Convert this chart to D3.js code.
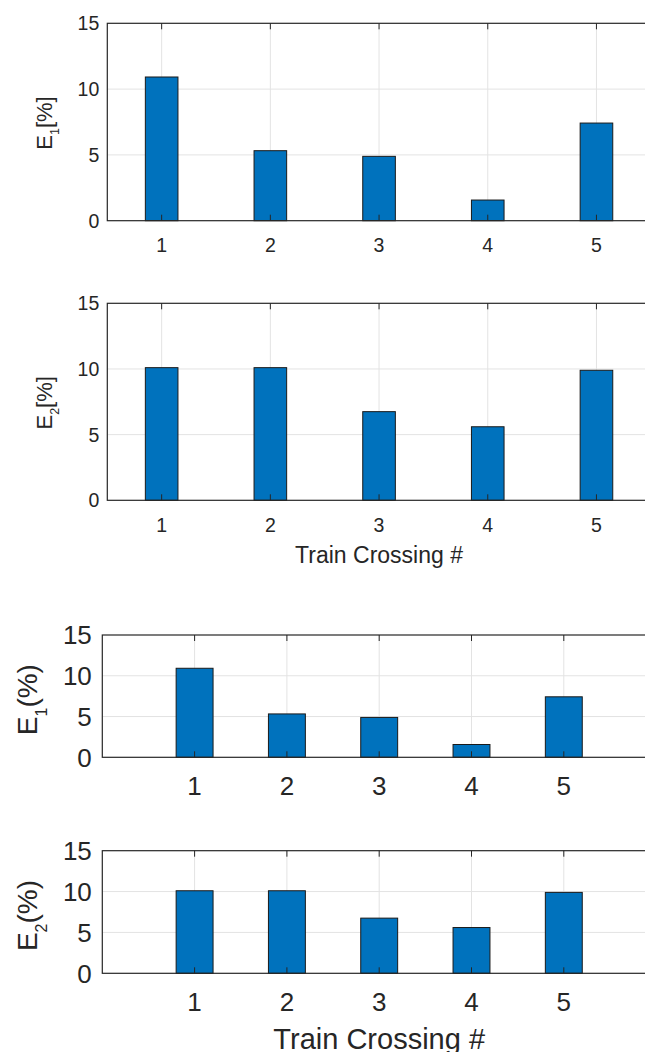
<!DOCTYPE html>
<html>
<head>
<meta charset="utf-8">
<script src="https://cdn.jsdelivr.net/npm/d3@7"></script>
<style>
  html, body { margin: 0; padding: 0; background: #fff; }
  svg { display: block; }
  text { font-family: "Liberation Sans", Arial, Helvetica, sans-serif; fill: #262626; }
</style>
</head>
<body>
<script>
// ---- data ----
const categories = [1, 2, 3, 4, 5];
const e1Values = [10.92, 5.32, 4.89, 1.57, 7.42];
const e2Values = [10.1, 10.1, 6.75, 5.6, 9.9];
const yTicks = [0, 5, 10, 15];
const xTickLabels = ["1", "2", "3", "4", "5"];
const xLabel = "Train Crossing #";

// ---- layout (styles/positions) ----
const W = 645, H = 1052;
const panels = [
  { values: e1Values, sub: "1", after: "[%]", left: 107.3, top: 23.3, bottom: 220.7, xDom: [0.5, 5.5], pxPerUnit: 108.7,
    barW: 0.3, tickFs: 19.5, labFs: 22, subFs: 12.5, subDy: 7, ylabX: 52.3, ylabDy: 1, xTickBase: 31.5, tickGap: 8, xlab: null },
  { values: e2Values, sub: "2", after: "[%]", left: 107.3, top: 303.3, bottom: 500.3, xDom: [0.5, 5.5], pxPerUnit: 108.7,
    barW: 0.3, tickFs: 19.5, labFs: 22, subFs: 12.5, subDy: 7, ylabX: 52.3, ylabDy: 1, xTickBase: 31.5, tickGap: 8, xlab: { y: 563.3, fs: 23 } },
  { values: e1Values, sub: "1", after: "(%)", left: 102.3, top: 635, bottom: 757.3, xDom: [0, 6], pxPerUnit: 92.3,
    barW: 0.4, tickFs: 26, labFs: 28, subFs: 16, subDy: 9.5, ylabX: 37.3, ylabDy: 3.5, xTickBase: 37.7, tickGap: 10.5, xlab: null },
  { values: e2Values, sub: "2", after: "(%)", left: 102.3, top: 850.7, bottom: 973.3, xDom: [0, 6], pxPerUnit: 92.3,
    barW: 0.4, tickFs: 26, labFs: 28, subFs: 16, subDy: 9.5, ylabX: 37.3, ylabDy: 3.5, xTickBase: 37.7, tickGap: 10.5, xlab: { y: 1049, fs: 29 } }
];

const svg = d3.select("body").append("svg").attr("width", W).attr("height", H);
const axisColor = "#262626";
const gridColor = "#e3e3e3";

panels.forEach(p => {
  const right = p.left + (p.xDom[1] - p.xDom[0]) * p.pxPerUnit;
  const x = d3.scaleLinear().domain(p.xDom).range([p.left, right]);
  const y = d3.scaleLinear().domain([0, 15]).range([p.bottom, p.top]);
  const g = svg.append("g");

  // grid
  g.selectAll(".vg").data(categories).enter().append("line")
    .attr("x1", d => x(d)).attr("x2", d => x(d))
    .attr("y1", p.top).attr("y2", p.bottom)
    .attr("stroke", gridColor).attr("stroke-width", 1);
  g.selectAll(".hg").data(yTicks.filter(t => t > 0 && t < 15)).enter().append("line")
    .attr("x1", p.left).attr("x2", right)
    .attr("y1", d => y(d)).attr("y2", d => y(d))
    .attr("stroke", gridColor).attr("stroke-width", 1);

  // bars
  const bw = p.barW * p.pxPerUnit;
  g.selectAll(".bar").data(p.values).enter().append("rect")
    .attr("x", (d, i) => x(categories[i]) - bw / 2)
    .attr("width", bw)
    .attr("y", d => y(d))
    .attr("height", d => y(0) - y(d))
    .attr("fill", "#0072BD")
    .attr("stroke", "#1a1a1a")
    .attr("stroke-width", 1);

  // x ticks (inward, bottom and top)
  const tl = 6;
  g.selectAll(".xtb").data(categories).enter().append("line")
    .attr("x1", d => x(d)).attr("x2", d => x(d))
    .attr("y1", p.bottom).attr("y2", p.bottom - tl)
    .attr("stroke", axisColor).attr("stroke-width", 1);
  g.selectAll(".xtt").data(categories).enter().append("line")
    .attr("x1", d => x(d)).attr("x2", d => x(d))
    .attr("y1", p.top).attr("y2", p.top + tl)
    .attr("stroke", axisColor).attr("stroke-width", 1);

  // box
  g.append("rect")
    .attr("x", p.left).attr("y", p.top)
    .attr("width", right - p.left).attr("height", p.bottom - p.top)
    .attr("fill", "none").attr("stroke", axisColor).attr("stroke-width", 1.2);

  // x tick labels
  g.selectAll(".xl").data(categories).enter().append("text")
    .attr("x", d => x(d)).attr("y", p.bottom + p.xTickBase)
    .attr("text-anchor", "middle")
    .attr("font-size", p.tickFs)
    .text((d, i) => xTickLabels[i]);

  // y tick labels
  g.selectAll(".yl").data(yTicks).enter().append("text")
    .attr("x", p.left - p.tickGap).attr("y", d => y(d))
    .attr("dy", "0.36em")
    .attr("text-anchor", "end")
    .attr("font-size", p.tickFs)
    .text(d => d);

  // y label with subscript
  const cy = (p.top + p.bottom) / 2 + p.ylabDy;
  const t = g.append("text")
    .attr("transform", `translate(${p.ylabX},${cy}) rotate(-90)`)
    .attr("text-anchor", "middle")
    .attr("font-size", p.labFs);
  t.append("tspan").text("E");
  t.append("tspan").attr("font-size", p.subFs).attr("dy", p.subDy).text(p.sub);
  t.append("tspan").attr("dy", -p.subDy).text(p.after);

  // x label
  if (p.xlab) {
    g.append("text")
      .attr("x", (p.left + right) / 2).attr("y", p.xlab.y)
      .attr("text-anchor", "middle")
      .attr("font-size", p.xlab.fs)
      .text(xLabel);
  }
});
</script>
</body>
</html>
